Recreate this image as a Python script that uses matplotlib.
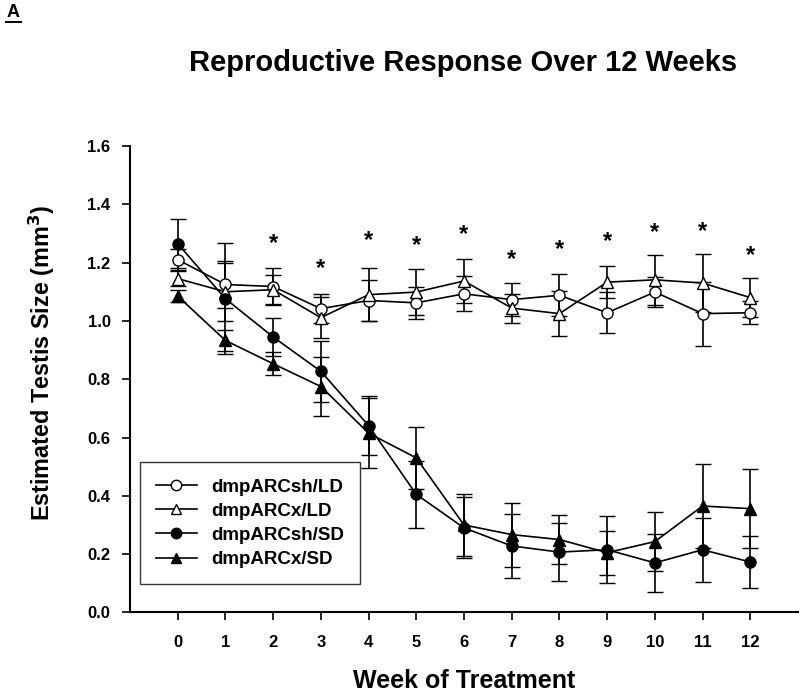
import matplotlib
matplotlib.use("Agg")
import matplotlib.pyplot as plt
from matplotlib.lines import Line2D
import numpy as np

plt.rcParams['font.family'] = ['Liberation Sans', 'DejaVu Sans']

weeks = list(range(13))
week_labels = [str(w) for w in weeks]

sh_ld = [1.21, 1.125, 1.118, 1.042, 1.07, 1.062, 1.093, 1.073, 1.088, 1.028, 1.099, 1.025, 1.028]
sh_ld_err = [0.035, 0.08, 0.065, 0.05, 0.07, 0.055, 0.06, 0.057, 0.072, 0.07, 0.05, 0.11, 0.04]
x_ld = [1.145, 1.10, 1.107, 1.011, 1.09, 1.099, 1.137, 1.044, 1.025, 1.133, 1.141, 1.13, 1.08]
x_ld_err = [0.025, 0.1, 0.05, 0.07, 0.09, 0.08, 0.075, 0.05, 0.077, 0.055, 0.085, 0.1, 0.067]
sh_sd = [1.265, 1.076, 0.945, 0.827, 0.641, 0.405, 0.29, 0.228, 0.207, 0.215, 0.17, 0.215, 0.173]
sh_sd_err = [0.085, 0.19, 0.066, 0.105, 0.10, 0.115, 0.105, 0.11, 0.10, 0.115, 0.10, 0.11, 0.09]
x_sd = [1.085, 0.933, 0.853, 0.775, 0.615, 0.53, 0.30, 0.267, 0.25, 0.205, 0.243, 0.365, 0.356]
x_sd_err = [0.02, 0.037, 0.04, 0.1, 0.12, 0.105, 0.105, 0.11, 0.085, 0.075, 0.1, 0.145, 0.135]

star_weeks = [2, 3, 4, 5, 6, 7, 8, 9, 10, 11, 12]
star_y = [1.265, 1.18, 1.275, 1.257, 1.295, 1.212, 1.246, 1.271, 1.303, 1.308, 1.225]

labels = ['dmpARCsh/LD', 'dmpARCx/LD', 'dmpARCsh/SD', 'dmpARCx/SD']

fig = plt.figure(figsize=(8, 6.92), dpi=100)
ax = fig.add_axes([0.1625, 0.115, 0.835, 0.674])

series = [
    (sh_ld, sh_ld_err, 'o', 'white'),
    (x_ld, x_ld_err, '^', 'white'),
    (sh_sd, sh_sd_err, 'o', 'black'),
    (x_sd, x_sd_err, '^', 'black'),
]
handles = []
for (vals, errs, mk, fc), lab in zip(series, labels):
    ax.errorbar(weeks, vals, yerr=errs, color='black', lw=1.2, elinewidth=1.2,
                capsize=5.5, capthick=1.2, marker=mk, markersize=8,
                markerfacecolor=fc, markeredgecolor='black', markeredgewidth=1.0,
                zorder=3)
    handles.append(Line2D([], [], color='black', lw=1.2, marker=mk, markersize=7.5,
                          markerfacecolor=fc, markeredgecolor='black',
                          markeredgewidth=1.0))

for w, y in zip(star_weeks, star_y):
    ax.text(w, y, '*', ha='center', va='center', fontsize=17, fontweight='bold')

ax.set_xlim(-1, 13)
ax.set_ylim(0, 1.6)
ax.set_xticks(weeks)
ax.set_xticklabels(week_labels)
yt = np.arange(0, 1.61, 0.2)
ax.set_yticks(yt)
ax.set_yticklabels([f'{v:.1f}' for v in yt])
ax.spines['top'].set_visible(False)
ax.spines['right'].set_visible(False)
for s in ['left', 'bottom']:
    ax.spines[s].set_linewidth(1.5)
ax.tick_params(axis='both', direction='out', length=6, width=1.2, labelsize=12)
for t in ax.get_xticklabels() + ax.get_yticklabels():
    t.set_fontweight('bold')
ax.tick_params(axis='x', pad=10)
ax.tick_params(axis='y', pad=8)

ax.set_xlabel('Week of Treatment', fontsize=18, fontweight='bold', labelpad=14)
ax.set_ylabel('Estimated Testis Size (mm$^\\mathbf{3}$)', fontsize=16.8, fontweight='bold')
ax.yaxis.set_label_coords(-0.109, 0.535)

leg = ax.legend(handles=handles, labels=labels, loc='lower left',
                bbox_to_anchor=(0.0144, 0.0605), frameon=True, fancybox=False,
                edgecolor='black', prop={'weight': 'bold', 'size': 13.5},
                handlelength=2.2, borderpad=0.85, labelspacing=0.38, handletextpad=0.75,
                borderaxespad=0)
leg.get_frame().set_linewidth(1.0)

fig.text(0.579, 0.909, 'Reproductive Response Over 12 Weeks', ha='center', va='center',
         fontsize=21, fontweight='bold')
fig.text(0.008, 0.982, 'A', ha='left', va='center', fontsize=13, fontweight='bold')
fig.add_artist(Line2D([0.007, 0.026], [0.968, 0.968], color='black', lw=1.4))

fig.savefig('out.png', dpi=100)
